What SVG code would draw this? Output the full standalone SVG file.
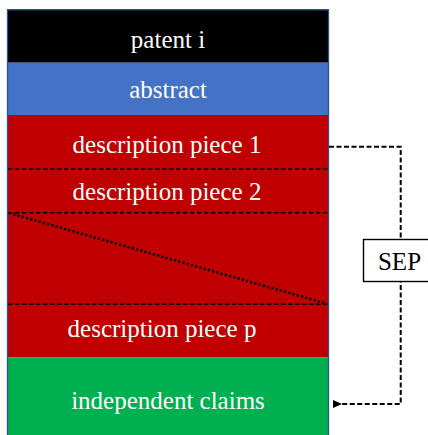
<svg xmlns="http://www.w3.org/2000/svg" width="428" height="435" viewBox="0 0 428 435">
  <style>
    .band { stroke: none; }
    .lbl { font-family: "Liberation Serif", "Times New Roman", serif; font-size: 25px; fill: #ffffff; text-anchor: middle; }
    .sep { font-family: "Liberation Serif", "Times New Roman", serif; font-size: 25px; fill: #000000; text-anchor: middle; }
    .split { stroke: #000000; stroke-width: 1.6; stroke-dasharray: 4.5 2.5; fill: none; }
    .elide { stroke: #000000; stroke-width: 2.6; stroke-dasharray: 2.2 2.2; fill: none; }
    .flow { stroke: #000000; stroke-width: 2; stroke-dasharray: 5 2.5; fill: none; }
  </style>
  <defs>
    <marker id="arrow" markerWidth="10" markerHeight="10" refX="9" refY="5" orient="auto" markerUnits="userSpaceOnUse">
      <path d="M0,5 L9,1 L9,9 Z" fill="#000000"/>
    </marker>
  </defs>
  <rect width="428" height="435" fill="#ffffff"/>

  <g id="patent">
    <rect class="band" x="7.5" y="9.7" width="321" height="53" fill="#000000"/>
    <text class="lbl" x="168" y="48">patent i</text>
  </g>

  <g id="abstract">
    <rect class="band" x="7.5" y="62.7" width="321" height="52.3" fill="#4472c4"/>
    <text class="lbl" x="168" y="97.5">abstract</text>
  </g>

  <g id="description">
    <rect class="band" x="7.5" y="115" width="321" height="242.5" fill="#c00000"/>
    <text class="lbl" x="167" y="152.5">description piece 1</text>
    <text class="lbl" x="167" y="200">description piece 2</text>
    <text class="lbl" x="162" y="337">description piece p</text>
    <line class="split" x1="8" y1="169" x2="328" y2="169"/>
    <line class="split" x1="8" y1="212.7" x2="328" y2="212.7"/>
    <line class="split" x1="8" y1="304.3" x2="328" y2="304.3"/>
    <line class="elide" x1="9" y1="213" x2="326" y2="303.5"/>
  </g>

  <g id="claims">
    <rect class="band" x="7.5" y="357.5" width="321" height="80" fill="#00b050"/>
    <text class="lbl" x="168" y="408.5">independent claims</text>
  </g>

  <!-- outline around the stacked column -->
  <rect x="7.5" y="9.7" width="321" height="430" fill="none" stroke="#2f528f" stroke-width="1.3"/>

  <g id="connectors">
    <path class="flow" d="M329,146.7 H400.7 V404 H333" marker-end="url(#arrow)"/>
  </g>

  <g id="sep-label">
    <rect x="363.5" y="239.5" width="76" height="42" fill="#ffffff" stroke="#000000" stroke-width="1.4"/>
    <text class="sep" x="399.5" y="269.5">SEP</text>
  </g>
</svg>
